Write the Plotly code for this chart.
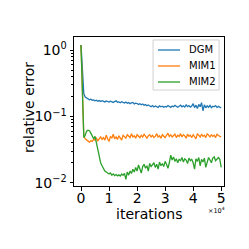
import plotly.graph_objects as go

iterations = list(range(0, 50001, 500))

DGM = [1.20, 0.45, 0.22, 0.196, 0.188, 0.184, 0.179, 0.182, 0.175, 0.178,
       0.172, 0.176, 0.170, 0.174, 0.168, 0.173, 0.171, 0.166, 0.172, 0.169,
       0.165, 0.170, 0.167, 0.163, 0.168, 0.172, 0.164, 0.166, 0.161, 0.167,
       0.163, 0.160, 0.165, 0.158, 0.162, 0.156, 0.160, 0.163, 0.155, 0.159,
       0.157, 0.152, 0.156, 0.150, 0.154, 0.148, 0.151, 0.145, 0.149, 0.143,
       0.140, 0.146, 0.139, 0.144, 0.141, 0.137, 0.145, 0.140, 0.143, 0.138,
       0.142, 0.139, 0.146, 0.141, 0.137, 0.144, 0.140, 0.147, 0.142, 0.138,
       0.143, 0.148, 0.140, 0.145, 0.139, 0.150, 0.141, 0.146, 0.138, 0.144,
       0.156, 0.136, 0.148, 0.132, 0.152, 0.140, 0.162, 0.122, 0.150, 0.135,
       0.145, 0.138, 0.147, 0.136, 0.143, 0.140, 0.146, 0.137, 0.142, 0.139, 0.134]

MIM1 = [1.20, 0.20, 0.050, 0.046, 0.044, 0.042, 0.041, 0.043, 0.042, 0.045,
        0.044, 0.047, 0.043, 0.046, 0.049, 0.045, 0.048, 0.044, 0.052, 0.046,
        0.042, 0.050, 0.047, 0.054, 0.046, 0.049, 0.045, 0.051, 0.048, 0.044,
        0.052, 0.049, 0.047, 0.053, 0.050, 0.048, 0.055, 0.049, 0.051, 0.047,
        0.053, 0.050, 0.048, 0.052, 0.049, 0.054, 0.050, 0.047, 0.051, 0.053,
        0.049, 0.052, 0.048, 0.050, 0.055, 0.049, 0.051, 0.047, 0.053, 0.050,
        0.048, 0.052, 0.056, 0.050, 0.053, 0.049, 0.051, 0.054, 0.048, 0.052,
        0.050, 0.055, 0.049, 0.053, 0.051, 0.047, 0.054, 0.050, 0.052, 0.048,
        0.053, 0.050, 0.046, 0.055, 0.051, 0.049, 0.054, 0.050, 0.052, 0.048,
        0.055, 0.051, 0.049, 0.053, 0.050, 0.052, 0.048, 0.054, 0.051, 0.050, 0.049]

MIM2 = [1.20, 0.15, 0.048, 0.052, 0.060, 0.062, 0.061, 0.056, 0.049, 0.046,
        0.050, 0.040, 0.031, 0.024, 0.020, 0.018, 0.0165, 0.015, 0.0145, 0.014,
        0.0135, 0.0140, 0.0130, 0.0136, 0.0128, 0.0133, 0.0127, 0.0131, 0.0126, 0.0135,
        0.0129, 0.0138, 0.0112, 0.0145, 0.0130, 0.0150, 0.0138, 0.0160, 0.0145, 0.0170,
        0.0150, 0.0185, 0.0160, 0.0140, 0.0175, 0.0190, 0.0165, 0.0180, 0.0150, 0.0195,
        0.0175, 0.0185, 0.0200, 0.0170, 0.0190, 0.0160, 0.0205, 0.0180, 0.0195, 0.0175,
        0.0210, 0.0190, 0.0165, 0.0200, 0.0260, 0.0220, 0.0245, 0.0210, 0.0230, 0.0200,
        0.0225, 0.0215, 0.0240, 0.0205, 0.0230, 0.0220, 0.0195, 0.0235, 0.0215, 0.0225,
        0.0200, 0.0160, 0.0230, 0.0210, 0.0240, 0.0180, 0.0225, 0.0205, 0.0235, 0.0170,
        0.0215, 0.0240, 0.0220, 0.0200, 0.0235, 0.0245, 0.0215, 0.0230, 0.0240, 0.0225, 0.0170]

series_names = ["DGM", "MIM1", "MIM2"]
series_colors = ["#1f77b4", "#ff7f0e", "#2ca02c"]

x_tickvals = [0, 10000, 20000, 30000, 40000, 50000]
x_ticktext = ["0", "1", "2", "3", "4", "5"]
y_tickvals = [1, 0.1, 0.01]
y_ticktext = ["10<sup>0</sup>", "10<sup>\u22121</sup>", "10<sup>\u22122</sup>"]
y_minor = [0.02, 0.03, 0.04, 0.05, 0.06, 0.07, 0.08, 0.09,
           0.2, 0.3, 0.4, 0.5, 0.6, 0.7, 0.8, 0.9]

fig = go.Figure()
for name, vals, col in zip(series_names, [DGM, MIM1, MIM2], series_colors):
    fig.add_trace(go.Scatter(x=iterations, y=vals, mode="lines", name=name,
                             showlegend=False,
                             line=dict(color=col, width=1.3)))

fig.update_layout(
    width=249, height=249,
    margin=dict(l=66, r=33, t=29, b=71, autoexpand=False),
    paper_bgcolor="white", plot_bgcolor="white",
    font=dict(family="DejaVu Sans", color="black"),
    showlegend=False,
)
fig.update_xaxes(range=[-2500, 51000], tickvals=x_tickvals, ticktext=x_ticktext,
                 showline=True, mirror=True, linecolor="black", linewidth=1,
                 ticks="outside", ticklen=3.5, tickcolor="black",
                 showgrid=False, zeroline=False, tickfont=dict(size=14),
                 ticklabelstandoff=-4, automargin=False)
fig.update_yaxes(type="log", range=[-2.05, 0.2], tickvals=y_tickvals, ticktext=y_ticktext,
                 showline=True, mirror=True, linecolor="black", linewidth=1,
                 ticks="outside", ticklen=3.5, tickcolor="black",
                 minor=dict(tickvals=y_minor, ticks="outside", ticklen=2, tickcolor="black"),
                 showgrid=False, zeroline=False, tickfont=dict(size=14),
                 automargin=False)

# axis titles
fig.add_annotation(text="iterations", xref="paper", yref="paper", x=0.503, y=-0.19,
                   xanchor="center", yanchor="middle", showarrow=False, font=dict(size=14))
fig.add_annotation(text="relative error", xref="paper", yref="paper", x=-0.30, y=0.523,
                   xanchor="center", yanchor="middle", textangle=-90, showarrow=False,
                   font=dict(size=14))
fig.add_annotation(text="\u00d710<sup>4</sup>", xref="paper", yref="paper",
                   x=1.02, y=-0.166, xanchor="right", yanchor="middle",
                   showarrow=False, font=dict(size=6.5))

# legend box (matplotlib style)
fig.add_shape(type="rect", xref="paper", yref="paper", x0=0.527, x1=0.967, y0=0.644, y1=0.980,
              line=dict(color="#d0d0d0", width=1), fillcolor="rgba(255,255,255,0.8)", layer="above")
legend_rows = [0.9128, 0.8054, 0.6980]
for name, col, yy in zip(series_names, series_colors, legend_rows):
    fig.add_shape(type="line", xref="paper", yref="paper", x0=0.560, x1=0.707, y0=yy, y1=yy,
                  line=dict(color=col, width=1.3), layer="above")
    fig.add_annotation(text=name, xref="paper", yref="paper", x=0.753, y=yy,
                       xanchor="left", yanchor="middle", showarrow=False, font=dict(size=10))

fig.write_html("out.html")
